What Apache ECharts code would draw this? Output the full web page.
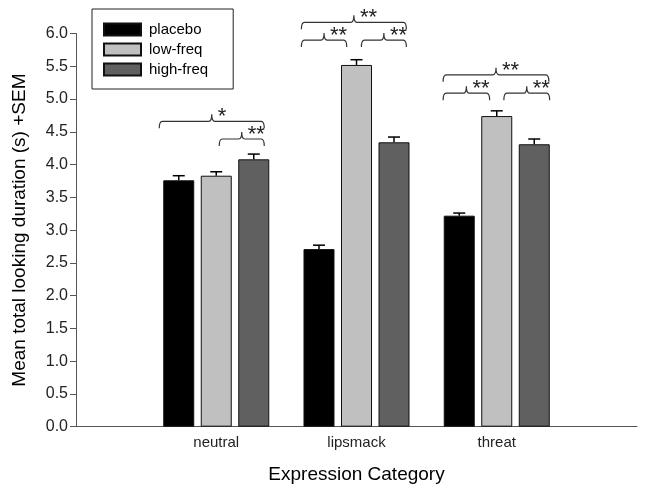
<!DOCTYPE html>
<html>
<head>
<meta charset="utf-8">
<script src="https://cdn.jsdelivr.net/npm/echarts@6/dist/echarts.min.js"></script>
<style>html,body{margin:0;padding:0;background:#fff;}#c{width:645px;height:495px;}</style>
</head>
<body>
<div id="c"></div>
<script>
// ---- data ----
var categories = ['neutral', 'lipsmack', 'threat'];
var placebo  = [3.76, 2.71, 3.22];
var lowFreq  = [3.83, 5.52, 4.74];
var highFreq = [4.08, 4.34, 4.31];
var placeboSem = [0.07, 0.06, 0.04];
var lowFreqSem = [0.06, 0.08, 0.08];
var highFreqSem = [0.08, 0.08, 0.08];
var yTicks = [0, 0.5, 1, 1.5, 2, 2.5, 3, 3.5, 4, 4.5, 5, 5.5, 6];
// significance brackets: category, height (s), span start/end (in bar slots), label
var bracketCat   = [0, 0, 1, 1, 1, 2, 2, 2];
var bracketY     = [4.66, 4.39, 6.17, 5.90, 5.90, 5.37, 5.09, 5.09];
var bracketFrom  = [-1.52, 0.08, -1.47, -1.47, 0.13, -1.43, -1.43, 0.19];
var bracketTo    = [1.28, 1.28, 1.33, -0.26, 1.33, 1.39, -0.19, 1.41];
var bracketLabel = ['*', '**', '**', '**', '**', '**', '**', '**'];

// ---- layout/style ----
var BAR_W = 31, BAR_STEP = 37.5;
var axisCats = [''].concat(categories).concat(['']);
function pad(arr){ return ['-'].concat(arr).concat(['-']); }

function errData(vals, sem){
  return vals.map(function(v, i){ return [i + 1, v, v + sem[i]]; });
}
function errSeries(vals, sem, slot){
  return {
    type: 'custom', silent: true, z: 5,
    data: errData(vals, sem),
    renderItem: function(params, api){
      var top = api.coord([api.value(0), api.value(1)]);
      var e = api.coord([api.value(0), api.value(2)]);
      var x = top[0] + slot * BAR_STEP;
      return {
        type: 'group',
        children: [
          {type: 'line', shape: {x1: x, y1: top[1], x2: x, y2: e[1]}, style: {stroke: '#000', lineWidth: 1.5}},
          {type: 'line', shape: {x1: x - 6, y1: e[1], x2: x + 6, y2: e[1]}, style: {stroke: '#000', lineWidth: 1.5}}
        ]
      };
    }
  };
}

var bracketData = bracketCat.map(function(c, i){ return [c + 1, bracketY[i], bracketFrom[i], bracketTo[i]]; });

var bracketSeries = {
  type: 'custom', silent: true, clip: false, z: 6,
  data: bracketData,
  renderItem: function(params, api){
    var p = api.coord([api.value(0), api.value(1)]);
    var y = p[1];
    var x0 = p[0] + api.value(2) * BAR_STEP;
    var x1 = p[0] + api.value(3) * BAR_STEP;
    var m = (x0 + x1) / 2;
    var h = 7, r = 3;
    var path = 'M' + x0 + ' ' + (y + h) +
      ' Q' + x0 + ' ' + y + ' ' + (x0 + r) + ' ' + y +
      ' L' + (m - r) + ' ' + y +
      ' Q' + m + ' ' + y + ' ' + m + ' ' + (y - h) +
      ' Q' + m + ' ' + y + ' ' + (m + r) + ' ' + y +
      ' L' + (x1 - r) + ' ' + y +
      ' Q' + x1 + ' ' + y + ' ' + x1 + ' ' + (y + h);
    var lbl = bracketLabel[params.dataIndex];
    return {
      type: 'group',
      children: [
        {type: 'path', shape: {pathData: path}, style: {stroke: '#333', lineWidth: 1.2, fill: null}},
        {type: 'text', x: m + 6, y: y - 4, style: {text: lbl, font: '22px "Liberation Sans", Arial, sans-serif', fill: '#222', align: 'left', verticalAlign: 'middle'}}
      ]
    };
  }
};

function barSeries(name, vals, color){
  return {
    name: name, type: 'bar', data: pad(vals), barWidth: BAR_W, barGap: '21%',
    itemStyle: {color: color, borderColor: '#111', borderWidth: 1}
  };
}

var chart = echarts.init(document.getElementById('c'), null, {renderer: 'canvas'});
chart.setOption({
  animation: false,
  backgroundColor: '#fff',
  textStyle: {fontFamily: '"Liberation Sans", Arial, sans-serif'},
  grid: {left: 76, right: 8, top: 33.5, bottom: 68.3, containLabel: false, outerBoundsMode: 'none'},
  legend: {
    data: ['placebo', 'low-freq', 'high-freq'],
    orient: 'vertical', left: 92, top: 9,
    padding: [13, 25, 12, 11],
    borderColor: '#222', borderWidth: 1,
    itemWidth: 37, itemHeight: 12, itemGap: 5,
    icon: 'rect',
    selectedMode: false,
    textStyle: {fontSize: 15, color: '#000', padding: [0, 0, 0, 3]}
  },
  xAxis: {
    type: 'category', data: axisCats, boundaryGap: false,
    axisLine: {show: true, lineStyle: {color: '#555', width: 1}},
    axisTick: {show: false},
    axisLabel: {interval: 0, fontSize: 15, color: '#222', margin: 9},
    splitLine: {show: false},
    name: 'Expression Category', nameLocation: 'middle', nameGap: 39,
    nameTextStyle: {fontSize: 19, color: '#000'}
  },
  yAxis: {
    type: 'value', min: yTicks[0], max: yTicks[yTicks.length - 1], interval: 0.5,
    axisLine: {show: true, lineStyle: {color: '#555', width: 1}},
    axisTick: {show: true, inside: false, length: 6, lineStyle: {color: '#555'}},
    axisLabel: {fontSize: 16, color: '#222', margin: 8, formatter: function(v){ return v.toFixed(1); }},
    splitLine: {show: false},
    name: 'Mean total looking duration (s) +SEM', nameLocation: 'middle', nameGap: 47,
    nameTextStyle: {fontSize: 19, color: '#000'}
  },
  series: [
    barSeries('placebo', placebo, '#000000'),
    barSeries('low-freq', lowFreq, '#c0c0c0'),
    barSeries('high-freq', highFreq, '#606060'),
    errSeries(placebo, placeboSem, -1),
    errSeries(lowFreq, lowFreqSem, 0),
    errSeries(highFreq, highFreqSem, 1),
    bracketSeries
  ]
});
</script>
</body>
</html>
